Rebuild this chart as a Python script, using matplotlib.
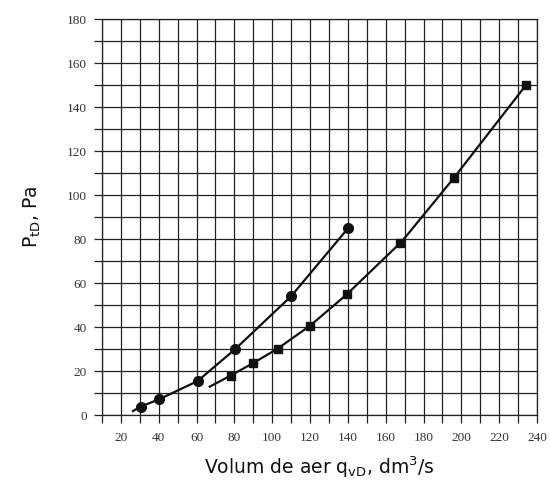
import numpy as np
import matplotlib
matplotlib.use("Agg")
import matplotlib.pyplot as plt
from matplotlib.ticker import MultipleLocator

# circle series (measured points) and the drawn curve through them
circ_x = [30.5, 40.3, 60.5, 80.5, 110, 140.2]
circ_y = [3.8, 7.2, 15.4, 30.0, 54.0, 85.0]
circ_curve_x = [26.4, 30.5, 40.3, 60.5, 80.5, 110, 140.2]
circ_curve_y = [1.8, 3.8, 7.2, 15.4, 30.0, 54.0, 85.0]

# square series
sq_x = [78, 89.7, 102.8, 120, 139.5, 167.7, 195.9, 234.3]
sq_y = [17.9, 23.5, 30.1, 40.6, 54.9, 78.2, 107.6, 150.1]
sq_curve_x = [67, 78, 89.7, 102.8, 120, 128.5, 139.5, 167.7, 172, 195.9, 234.3]
sq_curve_y = [12.9, 17.9, 23.5, 30.1, 40.6, 46.8, 54.9, 78.2, 82.5, 107.6, 150.1]

fig = plt.figure(figsize=(5.5, 4.86), dpi=100)
ax = fig.add_axes([102 / 550, 1 - 415 / 486, (537 - 102) / 550, (415 - 19) / 486])

ax.set_xlim(10, 240)
ax.set_ylim(0, 180)

ax.set_xticks(list(range(20, 241, 20)))
ax.xaxis.set_minor_locator(MultipleLocator(10))
ax.yaxis.set_major_locator(MultipleLocator(20))
ax.yaxis.set_minor_locator(MultipleLocator(10))
ax.grid(which="both", color="#222222", linewidth=0.9)
ax.tick_params(which="both", direction="out", length=6, width=0.9, color="#222222")
ax.tick_params(which="major", labelsize=9.5)
ax.tick_params(axis="x", which="major", pad=6)
ax.tick_params(axis="y", which="major", pad=5)
for lab in ax.get_xticklabels() + ax.get_yticklabels():
    lab.set_family("Liberation Serif")
    lab.set_color("#333333")
for s in ax.spines.values():
    s.set_color("#222222")
    s.set_linewidth(0.9)

ax.plot(circ_curve_x, circ_curve_y, color="#111111", lw=1.6, zorder=3)
ax.plot(circ_x, circ_y, "o", color="#111111", ms=7, zorder=4)
ax.plot(sq_curve_x, sq_curve_y, color="#111111", lw=1.6, zorder=3)
ax.plot(sq_x, sq_y, "s", color="#111111", ms=5.5, zorder=4)

ax.set_xlabel(r"Volum de aer q$_{\mathregular{vD}}$, dm$^{\mathregular{3}}$/s",
              fontsize=13.5, labelpad=8, family="DejaVu Sans", color="#111111")
ax.set_ylabel(r"P$_{\mathregular{tD}}$, Pa", fontsize=13.5, labelpad=17,
              family="DejaVu Sans", color="#111111")

fig.savefig("out.png", dpi=100)
